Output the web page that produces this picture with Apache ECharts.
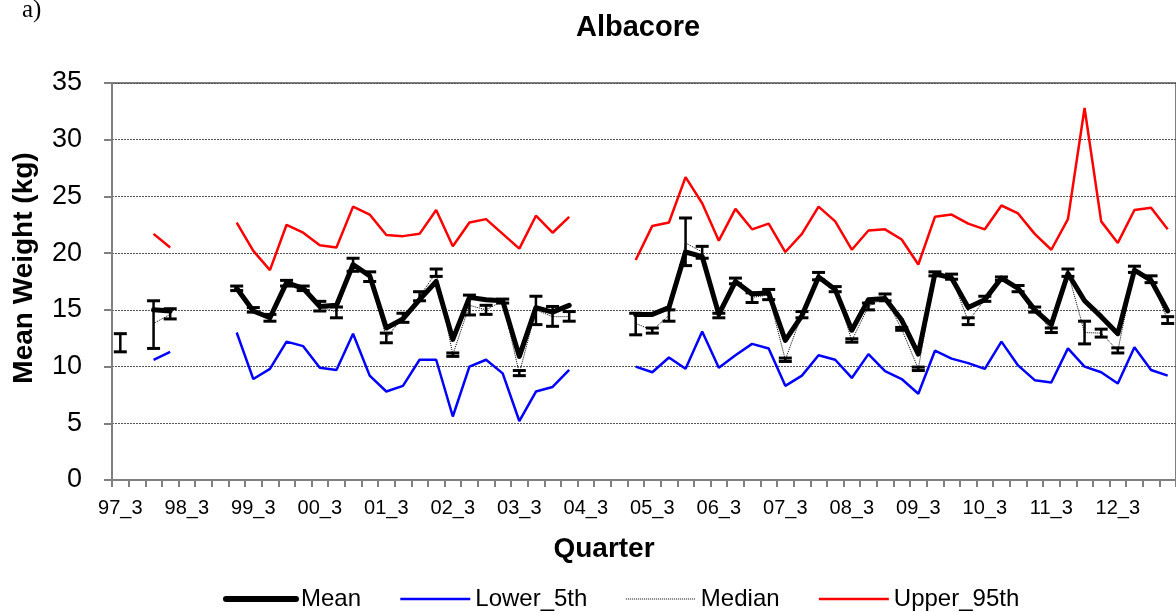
<!DOCTYPE html>
<html>
<head>
<meta charset="utf-8">
<script src="https://cdn.jsdelivr.net/npm/echarts@6.0.0/dist/echarts.min.js"></script>
<style>
html,body{margin:0;padding:0;background:#fff;}
#chart{width:1176px;height:612px;}
</style>
</head>
<body>
<div id="chart"></div>
<script>
var quarters = ['97_3','97_4','98_1','98_2','98_3','98_4','99_1','99_2','99_3','99_4','00_1','00_2','00_3','00_4','01_1','01_2','01_3','01_4','02_1','02_2','02_3','02_4','03_1','03_2','03_3','03_4','04_1','04_2','04_3','04_4','05_1','05_2','05_3','05_4','06_1','06_2','06_3','06_4','07_1','07_2','07_3','07_4','08_1','08_2','08_3','08_4','09_1','09_2','09_3','09_4','10_1','10_2','10_3','10_4','11_1','11_2','11_3','11_4','12_1','12_2','12_3','12_4','13_1','13_2'];

var meanW = [null,null,15.0,14.9,null,null,null,16.9,14.9,14.3,17.4,16.9,15.3,15.4,19.0,18.0,13.4,14.2,15.9,17.5,12.4,16.1,15.9,15.8,10.9,15.2,14.8,15.4,null,null,null,14.6,14.6,15.2,20.1,19.7,14.6,17.5,16.4,16.5,12.3,14.5,17.9,16.8,13.2,15.9,16.0,14.1,11.1,18.2,17.8,15.2,15.9,17.8,16.9,15.0,13.7,18.2,15.8,14.4,12.9,18.5,17.6,14.9];

var lower5 = [null,null,10.6,11.3,null,null,null,13.0,8.9,9.8,12.2,11.8,9.9,9.7,12.9,9.2,7.8,8.3,10.6,10.6,5.6,10.0,10.6,9.4,5.2,7.8,8.2,9.7,null,null,null,10.0,9.5,10.8,9.8,13.1,9.9,11.0,12.0,11.6,8.3,9.2,11.0,10.6,9.0,11.1,9.6,8.9,7.6,11.4,10.7,10.3,9.8,12.2,10.1,8.8,8.6,11.6,10.0,9.5,8.5,11.7,9.7,9.2];

var medianW = [12.1,null,13.8,14.6,null,null,null,16.9,15.0,14.3,17.35,16.9,15.3,14.8,19.0,17.9,12.55,14.3,16.2,18.3,11.05,15.4,15.0,15.8,9.4,15.0,14.4,14.4,null,null,null,13.8,13.2,14.5,20.9,20.1,14.5,17.5,16.1,16.3,10.6,14.6,17.9,16.9,12.3,15.3,16.1,13.3,9.8,18.2,17.9,14.0,15.9,17.75,16.9,15.0,13.2,18.3,13.0,12.95,11.4,18.5,17.7,14.1];

var upper95 = [null,null,21.7,20.5,null,null,null,22.7,20.2,18.5,22.5,21.8,20.7,20.5,24.1,23.4,21.6,21.5,21.7,23.8,20.6,22.7,23.0,21.7,20.4,23.3,21.8,23.2,null,null,null,19.4,22.4,22.7,26.7,24.4,21.1,23.9,22.1,22.6,20.1,21.7,24.1,22.8,20.3,22.0,22.1,21.2,19.0,23.2,23.4,22.6,22.1,24.2,23.5,21.7,20.3,23.0,32.8,22.8,20.9,23.8,24.0,22.1];

var errLow = [11.3,null,11.6,14.2,null,null,null,16.7,14.8,14.0,17.1,16.7,14.9,14.3,18.4,17.5,12.1,13.9,15.8,17.95,10.9,14.55,14.6,15.6,9.2,13.7,13.55,14.0,null,null,null,12.8,12.95,14.0,18.9,19.55,14.3,17.3,15.65,15.9,10.45,14.3,17.65,16.6,12.15,15.0,15.8,13.2,9.65,18.0,17.7,13.7,15.75,17.6,16.6,14.8,13.0,17.95,12.0,12.6,11.2,18.3,17.4,13.8];

var errHigh = [12.9,null,15.8,15.1,null,null,null,17.1,15.2,14.6,17.6,17.1,15.75,15.25,19.55,18.35,12.95,14.7,16.6,18.6,11.2,16.3,15.4,15.95,9.65,16.2,15.3,14.85,null,null,null,14.7,13.4,15.0,23.1,20.6,14.7,17.8,16.5,16.8,10.75,14.85,18.3,17.05,12.45,15.6,16.4,13.45,9.95,18.35,18.15,14.3,16.2,17.9,17.15,15.25,13.4,18.6,14.0,13.3,11.65,18.85,18.0,14.4];

var yTicks = [0,5,10,15,20,25,30,35];

var errData = [];
for (var i = 0; i < quarters.length; i++) {
  if (errLow[i] != null && errHigh[i] != null) errData.push([i, errLow[i], errHigh[i]]);
}

var FONT = '"Liberation Sans", Arial, sans-serif';
var chart = echarts.init(document.getElementById('chart'), null, {renderer: 'canvas'});
chart.setOption({
  animation: false,
  backgroundColor: '#ffffff',
  title: {
    text: 'Albacore', left: 633, top: 8, textAlign: 'center',
    textStyle: {fontFamily: FONT, fontWeight: 'bold', fontSize: 29, color: '#000'}
  },
  graphic: [
    {type: 'text', left: 22, top: -2, style: {text: 'a)', font: '25px "Liberation Serif", "DejaVu Serif", serif', fill: '#000'}},
    {type: 'text', x: 24, y: 268, rotation: Math.PI / 2,
      style: {text: 'Mean Weight (kg)', font: 'bold 28px "Liberation Sans", Arial, sans-serif', fill: '#000', align: 'center', verticalAlign: 'middle'}},
    {type: 'text', x: 604, y: 549,
      style: {text: 'Quarter', font: 'bold 28px "Liberation Sans", Arial, sans-serif', fill: '#000', align: 'center', verticalAlign: 'middle'}}
  ],
  legend: {
    left: 218, top: 582, itemWidth: 70, itemHeight: 14, itemGap: 38,
    itemStyle: {opacity: 0},
    textStyle: {fontFamily: FONT, fontSize: 24, color: '#000'},
    data: [
      {name: 'Mean', lineStyle: {width: 6, cap: 'round', color: '#000'}},
      {name: 'Lower_5th', lineStyle: {width: 2.5, color: '#0000ff'}},
      {name: 'Median', lineStyle: {width: 1, type: [1, 1], color: '#000'}},
      {name: 'Upper_95th', lineStyle: {width: 2.5, color: '#ff0000'}}
    ]
  },
  grid: {left: 112, top: 83, width: 1066, height: 397, show: true, borderColor: '#808080', borderWidth: 2, backgroundColor: '#fff'},
  xAxis: {
    type: 'category', data: quarters, boundaryGap: true,
    axisLine: {lineStyle: {color: '#808080', width: 2}},
    axisTick: {show: true, interval: 0, length: 7, lineStyle: {color: '#808080', width: 2}},
    axisLabel: {interval: 3, fontFamily: FONT, fontSize: 20, color: '#000', margin: 18},
    splitLine: {show: false}
  },
  yAxis: {
    type: 'value', min: 0, max: 35, interval: 5,
    axisLine: {show: true, lineStyle: {color: '#808080', width: 2}},
    axisTick: {show: true, length: 8, lineStyle: {color: '#808080', width: 2}},
    axisLabel: {fontFamily: FONT, fontSize: 27, color: '#000', margin: 30, padding: [5, 0, 0, 0],
      formatter: function (v) { return yTicks.indexOf(v) >= 0 ? String(v) : ''; }},
    splitLine: {show: true, lineStyle: {color: '#555', width: 1, type: [2, 1]}}
  },
  series: [
    {name: 'Upper_95th', type: 'line', data: upper95, showSymbol: false, symbol: 'none',
      lineStyle: {color: '#ff0000', width: 2.5}, itemStyle: {color: '#ff0000'}, z: 2},
    {name: 'Lower_5th', type: 'line', data: lower5, showSymbol: false, symbol: 'none',
      lineStyle: {color: '#0000ff', width: 2.5}, itemStyle: {color: '#0000ff'}, z: 2},
    {name: 'Mean', type: 'line', data: meanW, showSymbol: false, symbol: 'none',
      lineStyle: {color: '#000', width: 5, cap: 'round', join: 'round'}, itemStyle: {color: '#000'}, z: 3},
    {name: 'Median', type: 'line', data: medianW, showSymbol: false, symbol: 'none',
      lineStyle: {color: '#000', width: 1, type: [1, 1]}, itemStyle: {color: '#000'}, z: 4},
    {name: 'MedianCI', type: 'custom', data: errData, z: 5,
      encode: {x: 0, y: [1, 2]},
      renderItem: function (params, api) {
        var lo = api.coord([api.value(0), api.value(1)]);
        var hi = api.coord([api.value(0), api.value(2)]);
        var hw = 6.5;
        return {type: 'group', children: [
          {type: 'line', shape: {x1: lo[0], y1: lo[1], x2: hi[0], y2: hi[1]}, style: {stroke: '#000', lineWidth: 2.5}},
          {type: 'line', shape: {x1: lo[0] - hw, y1: lo[1], x2: lo[0] + hw, y2: lo[1]}, style: {stroke: '#000', lineWidth: 3}},
          {type: 'line', shape: {x1: hi[0] - hw, y1: hi[1], x2: hi[0] + hw, y2: hi[1]}, style: {stroke: '#000', lineWidth: 3}}
        ]};
      }
    }
  ]
});
</script>
</body>
</html>
